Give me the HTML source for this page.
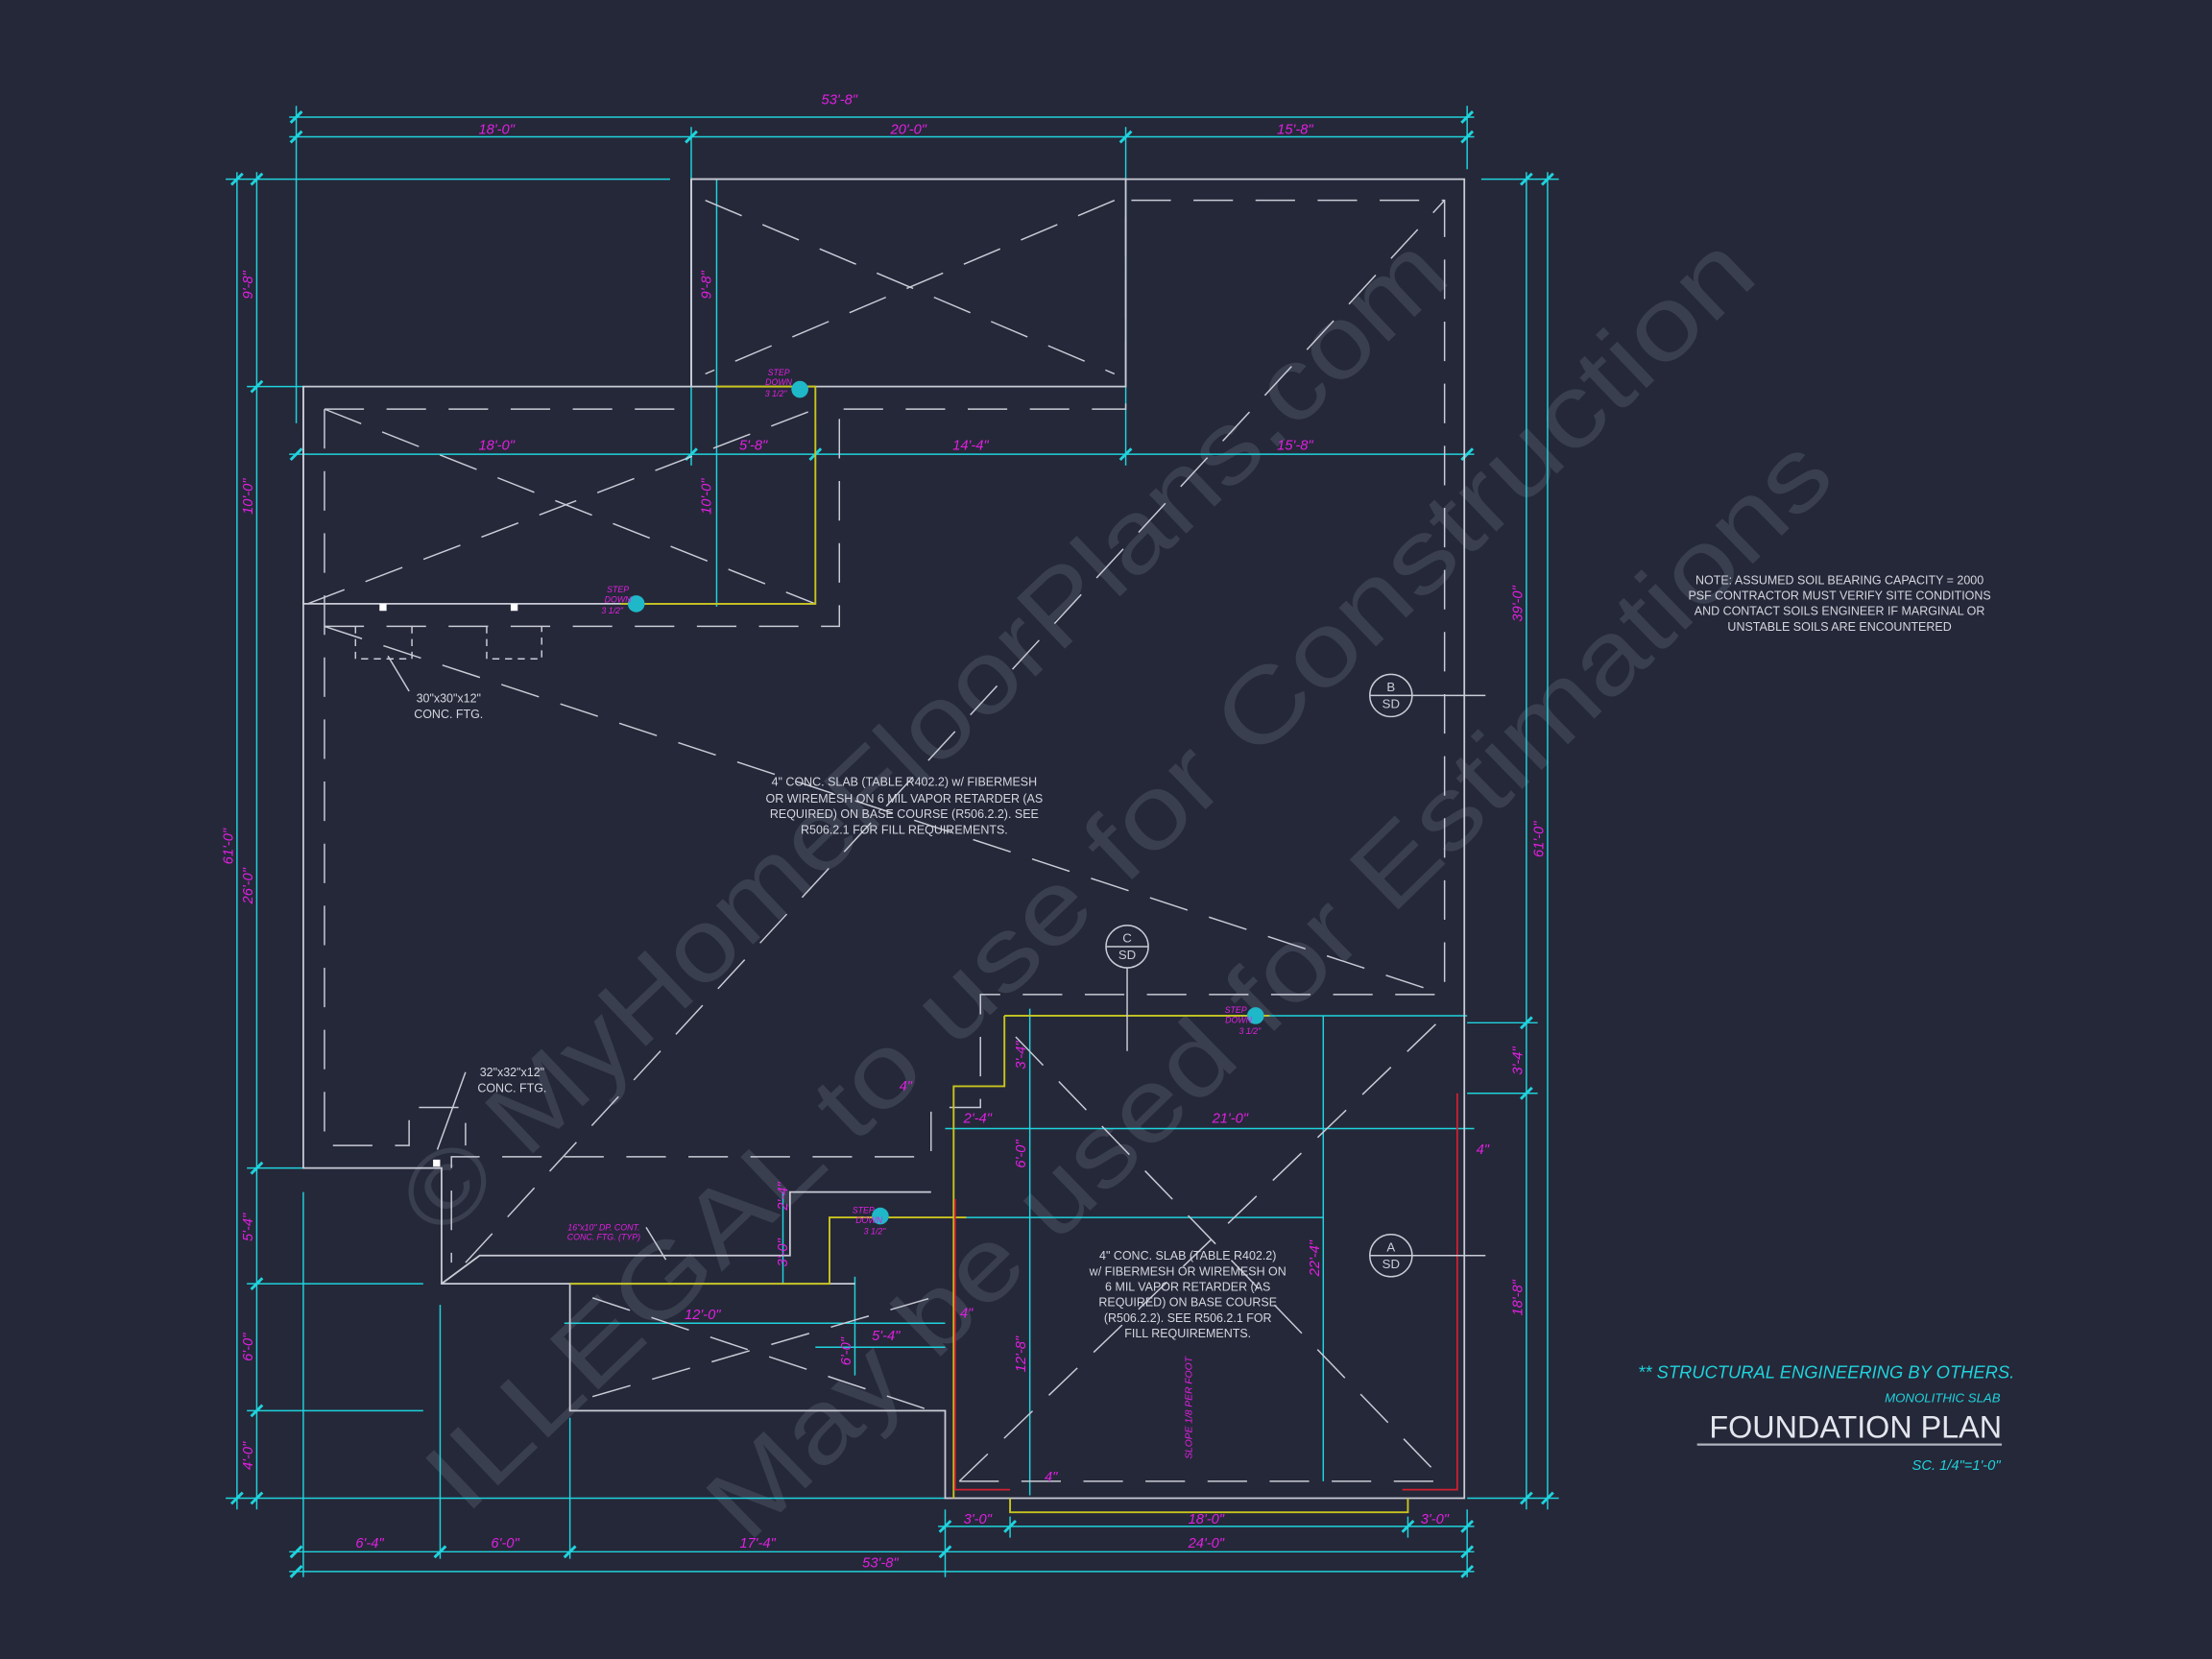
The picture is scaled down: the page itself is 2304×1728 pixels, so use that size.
<!DOCTYPE html>
<html><head><meta charset="utf-8"><style>
html,body{margin:0;padding:0;background:#252839;}
svg{display:block}
text{font-family:"Liberation Sans",sans-serif}
</style></head><body>
<svg width="2304" height="1728" viewBox="0 0 1568 1176" xmlns="http://www.w3.org/2000/svg">
<rect width="1568" height="1176" fill="#252839"/>
<!-- watermark -->
<g fill="#3a3f50" font-family="Liberation Serif" font-size="72">
<text transform="translate(312,880) rotate(-43.5)" textLength="990" lengthAdjust="spacingAndGlyphs">© MyHomeFloorPlans.com</text>
<text transform="translate(330,1075) rotate(-43.7)" textLength="1270" lengthAdjust="spacingAndGlyphs">ILLEGAL to use for Construction</text>
<text transform="translate(530,1095) rotate(-44.3)" textLength="1080" lengthAdjust="spacingAndGlyphs">May be used for Estimations</text>
</g>
<!-- cyan dimension lines -->
<g stroke="#1fd3dc" stroke-width="1" fill="none">
<line x1="205" y1="83" x2="1045" y2="83"/>
<line x1="205" y1="97" x2="1045" y2="97"/>
<line x1="210" y1="75" x2="210" y2="300"/><line x1="490" y1="90" x2="490" y2="330"/><line x1="798" y1="90" x2="798" y2="330"/><line x1="1040" y1="75" x2="1040" y2="120"/>
<line x1="205" y1="322" x2="1045" y2="322"/>
<line x1="578" y1="300" x2="578" y2="330"/>
<line x1="168" y1="122" x2="168" y2="1070"/><line x1="182" y1="122" x2="182" y2="1070"/>
<line x1="160" y1="127" x2="475" y2="127"/><line x1="175" y1="274" x2="215" y2="274"/><line x1="175" y1="828" x2="215" y2="828"/><line x1="175" y1="910" x2="300" y2="910"/><line x1="175" y1="1000" x2="300" y2="1000"/><line x1="160" y1="1062" x2="670" y2="1062"/>
<line x1="1082" y1="122" x2="1082" y2="1070"/><line x1="1097" y1="122" x2="1097" y2="1070"/>
<line x1="1050" y1="127" x2="1105" y2="127"/><line x1="1040" y1="725" x2="1090" y2="725"/><line x1="1040" y1="775" x2="1090" y2="775"/><line x1="1040" y1="1062" x2="1105" y2="1062"/>
<line x1="205" y1="1100" x2="1045" y2="1100"/><line x1="205" y1="1114" x2="1045" y2="1114"/>
<line x1="665" y1="1082" x2="1045" y2="1082"/>
<line x1="215" y1="845" x2="215" y2="1118"/><line x1="312" y1="925" x2="312" y2="1105"/><line x1="404" y1="1005" x2="404" y2="1105"/><line x1="670" y1="1070" x2="670" y2="1118"/><line x1="716" y1="1075" x2="716" y2="1090"/><line x1="998" y1="1075" x2="998" y2="1090"/><line x1="1040" y1="1070" x2="1040" y2="1118"/>
<line x1="508" y1="127" x2="508" y2="430"/>
<line x1="712" y1="720" x2="1040" y2="720"/>
<line x1="670" y1="800" x2="1045" y2="800"/>
<line x1="730" y1="715" x2="730" y2="1060"/><line x1="938" y1="720" x2="938" y2="1050"/>
<line x1="685" y1="863" x2="938" y2="863"/>
<line x1="400" y1="938" x2="670" y2="938"/>
<line x1="555" y1="845" x2="555" y2="910"/><line x1="606" y1="905" x2="606" y2="975"/>
<line x1="578" y1="955" x2="670" y2="955"/>
</g>
<!-- ticks -->
<g stroke="#1fd3dc" stroke-width="2">
<path d="M206,87l8,-8M486,101l8,-8M794,101l8,-8M1036,87l8,-8M1036,101l8,-8M206,101l8,-8M164,131l8,-8M178,131l8,-8M178,278l8,-8M178,832l8,-8M178,914l8,-8M178,1004l8,-8M164,1066l8,-8M178,1066l8,-8M1078,131l8,-8M1093,131l8,-8M1078,729l8,-8M1078,779l8,-8M1078,1066l8,-8M1093,1066l8,-8M206,1104l8,-8M308,1104l8,-8M400,1104l8,-8M666,1104l8,-8M1036,1104l8,-8M206,1118l8,-8M1036,1118l8,-8M666,1086l8,-8M712,1086l8,-8M994,1086l8,-8M1036,1086l8,-8M206,326l8,-8M486,326l8,-8M574,326l8,-8M794,326l8,-8M1036,326l8,-8"/>
</g>
<!-- building outline -->
<g stroke="#c9ccd6" stroke-width="1.2" fill="none">
<path d="M215,274 H490 V127 H1038 V1062 H670 V1000 H404 V910 H313 V828 H215 Z"/>
<rect x="490" y="127" width="308" height="147"/>
<path d="M215,274 V428 H578"/>
<path d="M313,910 L340,890 H560 V845 H660"/>
<path d="M404,910 H606"/>
</g>
<!-- dashed -->
<g stroke="#c9ccd6" stroke-width="1" fill="none" stroke-dasharray="28,16">
<path d="M230,290 H490 M598,290 H798 V142 H1024 V705 H695 V785 H660 V820 H320 V895 M230,290 V812 H290 V785 H330 V812 M230,444 H595 V290"/>
<path d="M500,142 L790,265 M790,142 L500,265"/>
<path d="M218,428 L578,290 M230,290 L578,428"/>
<path d="M230,444 L1024,705"/>
<path d="M330,895 L1024,142"/>
<path d="M680,1050 L1024,720 M720,735 L1024,1050 M680,1050 H1024"/>
<path d="M420,920 L660,1000 M420,990 L660,920"/>
</g>
<g stroke="#c9ccd6" fill="none" stroke-dasharray="5,4"><path d="M252,444 V467 H292 V444 M345,444 V467 H384 V444"/></g>
<rect x="269" y="428" width="5" height="5" fill="#fff"/><rect x="362" y="428" width="5" height="5" fill="#fff"/><rect x="307" y="822" width="5" height="5" fill="#fff"/>
<!-- yellow -->
<g stroke="#c8c41e" stroke-width="1.3" fill="none">
<path d="M508,274 H578 V428 H440"/>
<path d="M404,910 H588 V863 H685"/>
<path d="M712,720 H900 M712,720 V770 H676 V1062 M716,1062 V1072 H998 V1062"/>
</g>
<g stroke="#d02030" stroke-width="1.2" fill="none"><path d="M677,850 V1056 H716 M1033,775 V1056 H994"/></g>
<!-- step markers -->
<g fill="#1fb8c8"><circle cx="567" cy="276" r="6"/><circle cx="451" cy="428" r="6"/><circle cx="890" cy="720" r="6"/><circle cx="624" cy="862" r="6"/></g>
<!-- section markers -->
<g stroke="#c9ccd6" fill="none"><circle cx="986" cy="493" r="15"/><circle cx="986" cy="890" r="15"/><circle cx="799" cy="671" r="15"/>
<path d="M971,493H1001M971,890H1001M784,671H814M1001,493H1053M1001,890H1053M799,686V745"/>
<path d="M290,490 L275,465 M330,760 L310,815 M458,870 L472,893"/></g>
<g fill="#c9ccd6" font-size="9" text-anchor="middle"><text x="986" y="490">B</text><text x="986" y="502">SD</text><text x="986" y="887">A</text><text x="986" y="899">SD</text><text x="799" y="668">C</text><text x="799" y="680">SD</text></g>
<!-- magenta dims -->
<g fill="#e020e0" font-size="10" font-style="italic" text-anchor="middle">
<text x="595" y="74">53'-8"</text><text x="352" y="95">18'-0"</text><text x="644" y="95">20'-0"</text><text x="918" y="95">15'-8"</text>
<text x="352" y="319">18'-0"</text><text x="534" y="319">5'-8"</text><text x="688" y="319">14'-4"</text><text x="918" y="319">15'-8"</text>
<text x="872" y="796">21'-0"</text><text x="693" y="796">2'-4"</text><text x="498" y="935">12'-0"</text><text x="628" y="950">5'-4"</text>
<text x="262" y="1097">6'-4"</text><text x="358" y="1097">6'-0"</text><text x="537" y="1097">17'-4"</text><text x="855" y="1097">24'-0"</text><text x="624" y="1111">53'-8"</text>
<text x="693" y="1080">3'-0"</text><text x="855" y="1080">18'-0"</text><text x="1017" y="1080">3'-0"</text>
<text x="642" y="773">4"</text><text x="1051" y="818">4"</text><text x="685" y="934">4"</text><text x="745" y="1050">4"</text>
</g>
<g fill="#e020e0" font-size="10" font-style="italic" text-anchor="middle">
<text transform="translate(179,202) rotate(-90)">9'-8"</text><text transform="translate(179,352) rotate(-90)">10'-0"</text><text transform="translate(179,628) rotate(-90)">26'-0"</text><text transform="translate(165,600) rotate(-90)">61'-0"</text>
<text transform="translate(179,870) rotate(-90)">5'-4"</text><text transform="translate(179,955) rotate(-90)">6'-0"</text><text transform="translate(179,1032) rotate(-90)">4'-0"</text>
<text transform="translate(1079,428) rotate(-90)">39'-0"</text><text transform="translate(1094,595) rotate(-90)">61'-0"</text><text transform="translate(1079,752) rotate(-90)">3'-4"</text><text transform="translate(1079,920) rotate(-90)">18'-8"</text>
<text transform="translate(504,202) rotate(-90)">9'-8"</text><text transform="translate(504,352) rotate(-90)">10'-0"</text>
<text transform="translate(727,748) rotate(-90)">3'-4"</text><text transform="translate(727,818) rotate(-90)">6'-0"</text><text transform="translate(558,848) rotate(-90)">2'-4"</text><text transform="translate(558,888) rotate(-90)">3'-0"</text>
<text transform="translate(603,958) rotate(-90)">6'-0"</text><text transform="translate(727,960) rotate(-90)">12'-8"</text><text transform="translate(935,892) rotate(-90)">22'-4"</text>
<text transform="translate(845,998) rotate(-90)" font-size="7">SLOPE 1/8 PER FOOT</text>
</g>
<g fill="#e020e0" font-size="6" font-style="italic" text-anchor="middle">
<text x="552" y="266">STEP</text><text x="552" y="273">DOWN</text><text x="550" y="281">3 1/2"</text>
<text x="438" y="420">STEP</text><text x="438" y="427">DOWN</text><text x="434" y="435">3 1/2"</text>
<text x="876" y="718">STEP</text><text x="878" y="725">DOWN</text><text x="886" y="733">3 1/2"</text>
<text x="612" y="860">STEP</text><text x="616" y="867">DOWN</text><text x="620" y="875">3 1/2"</text>
<text x="428" y="872">16"x10" DP. CONT.</text><text x="428" y="879">CONC. FTG. (TYP)</text>
</g>
<!-- notes -->
<g fill="#d4d6de" font-size="8.5" text-anchor="middle">
<text x="641" y="557">4" CONC. SLAB (TABLE R402.2) w/ FIBERMESH</text><text x="641" y="569">OR WIREMESH ON 6 MIL VAPOR RETARDER (AS</text><text x="641" y="580">REQUIRED) ON BASE COURSE (R506.2.2). SEE</text><text x="641" y="591">R506.2.1 FOR FILL REQUIREMENTS.</text>
<text x="842" y="893">4" CONC. SLAB (TABLE R402.2)</text><text x="842" y="904">w/ FIBERMESH OR WIREMESH ON</text><text x="842" y="915">6 MIL VAPOR RETARDER (AS</text><text x="842" y="926">REQUIRED) ON BASE COURSE</text><text x="842" y="937">(R506.2.2). SEE R506.2.1 FOR</text><text x="842" y="948">FILL REQUIREMENTS.</text>
<text x="318" y="498">30"x30"x12"</text><text x="318" y="509">CONC. FTG.</text>
<text x="363" y="763">32"x32"x12"</text><text x="363" y="774">CONC. FTG.</text>
<text x="1304" y="414">NOTE: ASSUMED SOIL BEARING CAPACITY = 2000</text><text x="1304" y="425">PSF CONTRACTOR MUST VERIFY SITE CONDITIONS</text><text x="1304" y="436">AND CONTACT SOILS ENGINEER IF MARGINAL OR</text><text x="1304" y="447">UNSTABLE SOILS ARE ENCOUNTERED</text>
</g>
<!-- title -->
<g font-style="italic" text-anchor="end">
<text x="1428" y="977" fill="#1fd3dc" font-size="12.5">** STRUCTURAL ENGINEERING BY OTHERS.</text>
<text x="1418" y="994" fill="#1fd3dc" font-size="9">MONOLITHIC SLAB</text>
<text x="1419" y="1019" fill="#e4e6ee" font-size="22" font-style="normal">FOUNDATION PLAN</text>
<text x="1418" y="1042" fill="#1fd3dc" font-size="10">SC. 1/4"=1'-0"</text>
</g>
<line x1="1203" y1="1024" x2="1419" y2="1024" stroke="#b0b3bd" stroke-width="1.5"/>
</svg>
</body></html>
